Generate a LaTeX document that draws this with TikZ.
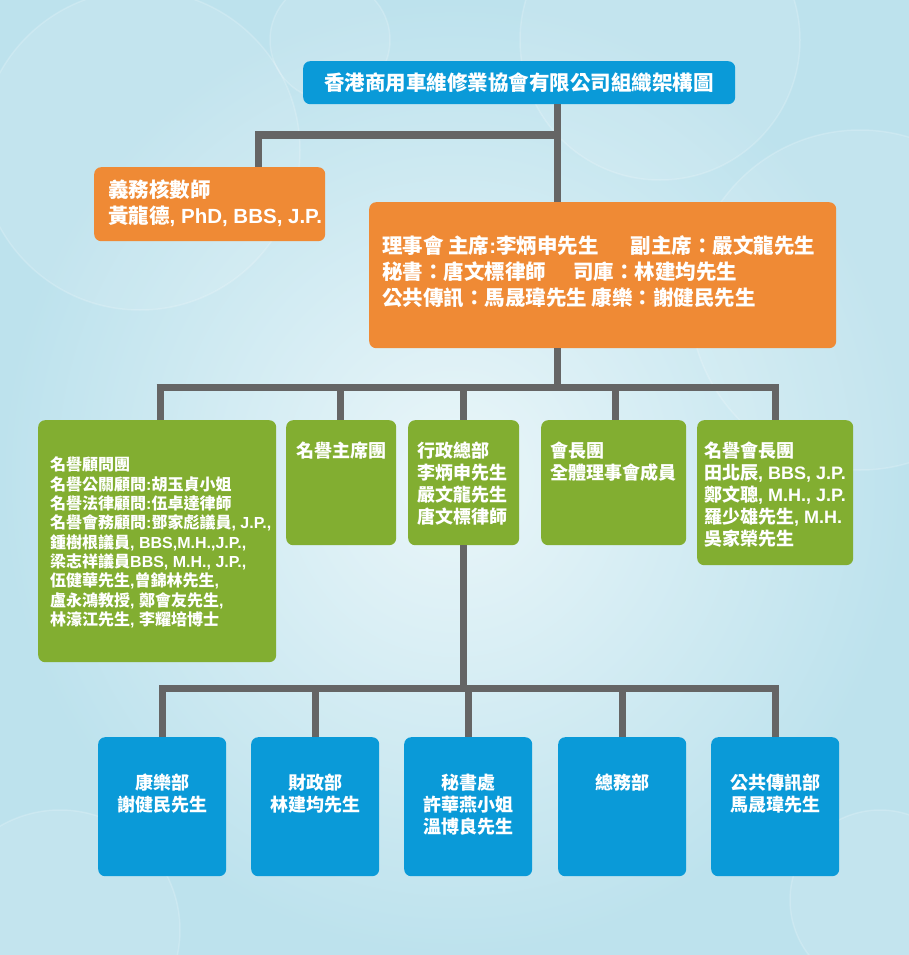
\documentclass[tikz,border=0pt]{standalone}
\usepackage{fontspec}
\setmainfont{Noto Sans CJK TC}
\newfontfamily\enfont{Liberation Sans}
\newcommand\en[1]{{\enfont #1}}
\usetikzlibrary{calc}
\definecolor{bgA}{HTML}{EAF6F9}
\definecolor{bgB}{HTML}{BDE2ED}
\definecolor{boxblue}{HTML}{0A9AD8}
\definecolor{boxorange}{HTML}{EF8A35}
\definecolor{boxgreen}{HTML}{82AE31}
\definecolor{linegray}{HTML}{656565}
\tikzset{
  box/.style={draw=none, rounded corners=7pt, anchor=north west, inner sep=0pt, minimum width=#1},
  bluebox/.style={box=#1, fill=boxblue},
  orangebox/.style={box=#1, fill=boxorange},
  greenbox/.style={box=#1, fill=boxgreen},
  txt/.style={text=white, inner sep=0pt, align=left, font=\bfseries\fontsize{18pt}{22pt}\selectfont},
  bigtxt/.style={txt, font=\bfseries\fontsize{20.5pt}{25.5pt}\selectfont},
  smalltxt/.style={txt, font=\bfseries\fontsize{16pt}{19.3pt}\selectfont},
  conn/.style={draw=linegray, line width=7pt, line cap=butt, line join=miter},
  bubble/.style={draw=white, draw opacity=0.18, fill=white, fill opacity=0.10, line width=1.5pt}
}
\begin{document}
\begin{tikzpicture}[x=1pt,y=-1pt]
% background
\shade[inner color=bgA, outer color=bgB] (0,0) rectangle (909,955);
\useasboundingbox (0,0) rectangle (909,955);
\begin{scope}
\clip (0,0) rectangle (909,955);
\path[bubble] (660,40) circle (140);
\path[bubble] (140,150) circle (160);
\path[bubble] (860,300) circle (170);
\path[bubble] (60,930) circle (120);
\path[bubble] (880,900) circle (90);
\path[bubble] (330,40) circle (60);
\end{scope}

% title
\node[bluebox=432pt, minimum height=43pt] (title) at (303,61) {};
\node[bigtxt, anchor=center] (titletxt) at (519,83) {香港商用車維修業協會有限公司組織架構圖};

% auditor
\node[orangebox=231pt, minimum height=74pt] (aud) at (94,167) {};
\node[bigtxt, anchor=north west] (audtxt) at (108,180) {義務核數師\\黃龍德\en{, PhD, BBS, J.P.}};

% board
\node[orangebox=467pt, minimum height=146pt] (board) at (369,202) {};
\node[bigtxt, anchor=north west, font=\bfseries\fontsize{20.5pt}{26pt}\selectfont] (boardtxt) at (382,235)
  {理事會 主席\en{:}李炳申先生\hspace{32pt}副主席：嚴文龍先生\\
   秘書：唐文標律師\hspace{27pt}司庫：林建均先生\\
   公共傳訊：馬晟瑋先生 康樂：謝健民先生};

% green row
\node[greenbox=238pt, minimum height=242pt] (g1) at (38,420) {};
\node[smalltxt, anchor=north west] (g1txt) at (50,457)
  {名譽顧問團\\
   名譽公關顧問\en{:}胡玉貞小姐\\
   名譽法律顧問\en{:}伍卓達律師\\
   名譽會務顧問\en{:}鄧家彪議員\en{, J.P.,}\\
   鍾樹根議員\en{, BBS,M.H.,J.P.,}\\
   梁志祥議員\en{BBS, M.H., J.P.,}\\
   伍健華先生\en{,}曾錦林先生\en{,}\\
   盧永鴻教授\en{, }鄭會友先生\en{,}\\
   林濠江先生\en{, }李耀培博士};
\node[greenbox=110pt, minimum height=125pt] (g2) at (286,420) {};
\node[txt, anchor=north west] (g2txt) at (296,442) {名譽主席團};
\node[greenbox=111pt, minimum height=125pt] (g3) at (408,420) {};
\node[txt, anchor=north west] (g3txt) at (417,442) {行政總部\\李炳申先生\\嚴文龍先生\\唐文標律師};
\node[greenbox=145pt, minimum height=125pt] (g4) at (541,420) {};
\node[txt, anchor=north west] (g4txt) at (550,442) {會長團\\全體理事會成員};
\node[greenbox=156pt, minimum height=145pt] (g5) at (697,420) {};
\node[txt, anchor=north west] (g5txt) at (704,442) {名譽會長團\\田北辰\en{, BBS, J.P.}\\鄭文聰\en{, M.H., J.P.}\\羅少雄先生\en{, M.H.}\\吳家榮先生};

% blue row
\node[bluebox=128pt, minimum height=139pt] (b1) at (98,737) {};
\node[txt, align=center, anchor=north] (b1txt) at (162.5,774) {康樂部\\謝健民先生};
\node[bluebox=128pt, minimum height=139pt] (b2) at (251,737) {};
\node[txt, align=center, anchor=north] (b2txt) at (315.5,774) {財政部\\林建均先生};
\node[bluebox=128pt, minimum height=139pt] (b3) at (404,737) {};
\node[txt, align=center, anchor=north] (b3txt) at (468.5,774) {秘書處\\許華燕小姐\\溫博良先生};
\node[bluebox=128pt, minimum height=139pt] (b4) at (558,737) {};
\node[txt, align=center, anchor=north] (b4txt) at (622,774) {總務部};
\node[bluebox=128pt, minimum height=139pt] (b5) at (711,737) {};
\node[txt, align=center, anchor=north] (b5txt) at (775,774) {公共傳訊部\\馬晟瑋先生};

% connector coordinates
\coordinate (ja) at (557.5,135);
\coordinate (da) at (258,135);
\coordinate (jb) at (557.5,387.5);
\coordinate (r1) at (160,387.5);
\coordinate (r2) at (340,387.5);
\coordinate (r3) at (463.5,387.5);
\coordinate (r4) at (615.5,387.5);
\coordinate (r5) at (775,387.5);
\coordinate (jc) at (463.5,688);
\coordinate (s1) at (162.5,688);
\coordinate (s2) at (315.5,688);
\coordinate (s3) at (468.5,688);
\coordinate (s4) at (622,688);
\coordinate (s5) at (775,688);

% connectors
\draw[conn] (title.south -| ja) -- (board.north -| ja);
\draw[conn] ([xshift=3.5pt]ja) -- ([xshift=-3.5pt]da);
\draw[conn] (da) -- (da |- aud.north);
\draw[conn] (board.south -| jb) -- (jb);
\draw[conn] ([xshift=-3.5pt]r1) -- ([xshift=3.5pt]r5);
\draw[conn] (r1) -- (r1 |- g1.north);
\draw[conn] (r2) -- (r2 |- g2.north);
\draw[conn] (r3) -- (r3 |- g3.north);
\draw[conn] (r4) -- (r4 |- g4.north);
\draw[conn] (r5) -- (r5 |- g5.north);
\draw[conn] (g3.south -| jc) -- (jc);
\draw[conn] ([xshift=-3.5pt]s1) -- ([xshift=3.5pt]s5);
\draw[conn] (s1) -- (s1 |- b1.north);
\draw[conn] (s2) -- (s2 |- b2.north);
\draw[conn] (s3) -- (s3 |- b3.north);
\draw[conn] (s4) -- (s4 |- b4.north);
\draw[conn] (s5) -- (s5 |- b5.north);
\end{tikzpicture}
\end{document}
